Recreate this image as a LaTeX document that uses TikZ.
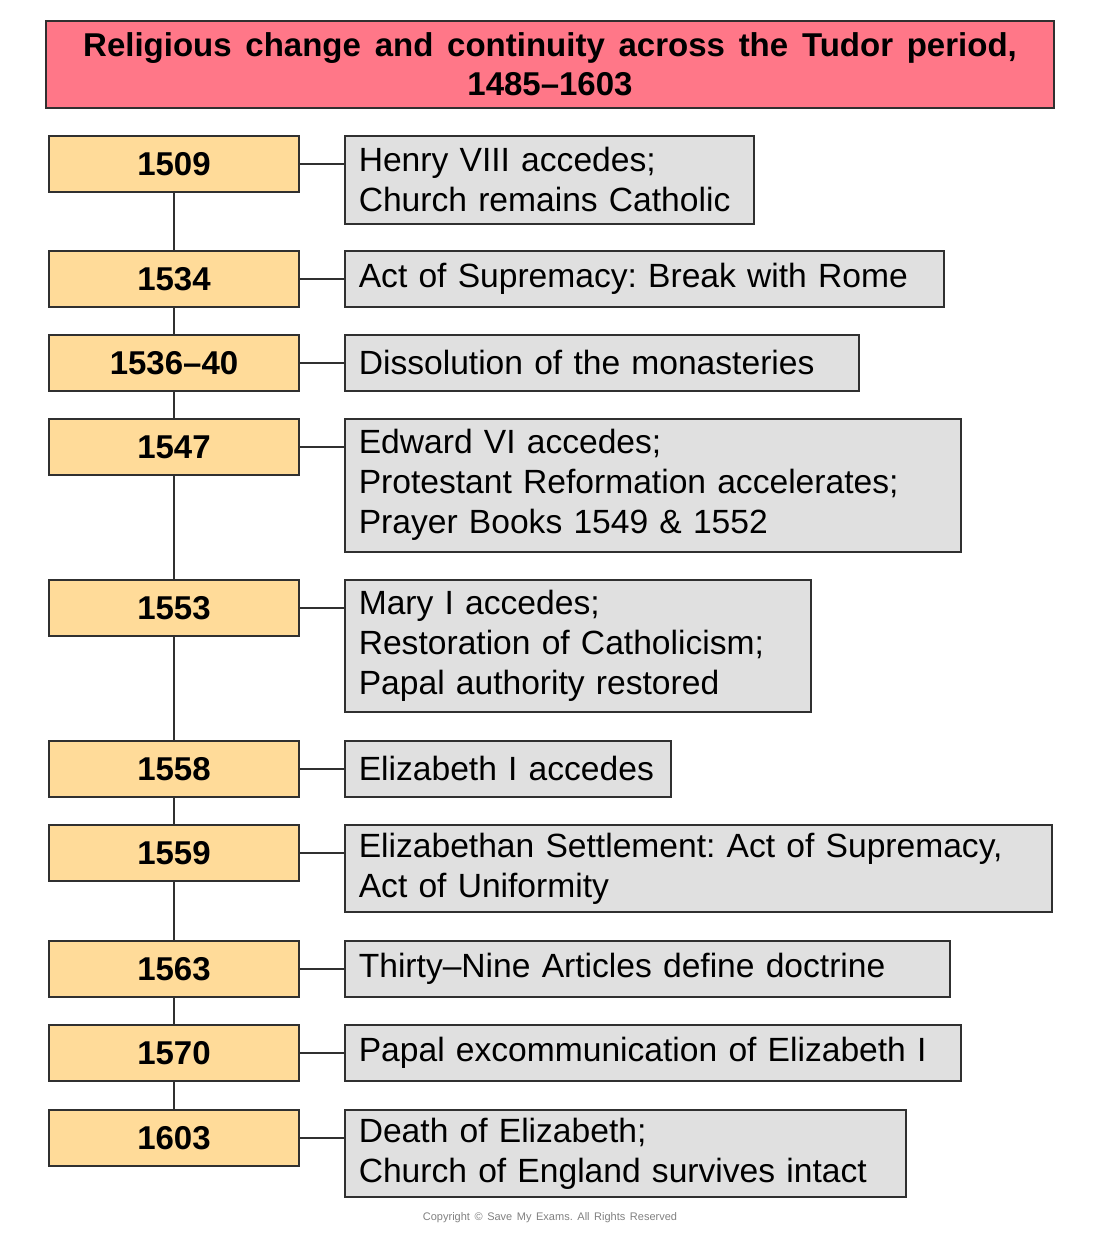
\documentclass[tikz,border=0pt]{standalone}
\usepackage{fontspec}
\setmainfont[WordSpace=1.5]{Liberation Sans}
\usetikzlibrary{positioning,calc}
\definecolor{titlered}{HTML}{FF7788}
\definecolor{yearorange}{HTML}{FFDB99}
\definecolor{eventgrey}{HTML}{E0E0E0}
\definecolor{linegrey}{HTML}{303030}
\frenchspacing
\tikzset{font=\fontsize{16.8}{20}\selectfont}
\tikzset{
	titlebox/.style={draw=linegrey, line width=1pt, fill=titlered, minimum width=504pt, minimum height=43.5pt, align=center, inner sep=0pt, font=\fontsize{16.5}{19.5}\selectfont\bfseries},
	yearbox/.style={draw=linegrey, line width=1pt, fill=yearorange, minimum width=125pt, minimum height=28pt, anchor=north west, inner sep=0pt, font=\fontsize{16.5}{20}\selectfont\bfseries},
	eventbox/.style={draw=linegrey, line width=0.8pt, fill=eventgrey, anchor=north west, align=left, inner xsep=7pt, inner ysep=4pt, text width=#1},
	link/.style={draw=linegrey, line width=1pt}
}

\begin{document}
\begin{tikzpicture}[x=0.5pt, y=-0.5pt]
	\useasboundingbox (0,0) rectangle (1100,1233);

	% title
	\node[titlebox] (title) at (550,64.5) {Religious change and continuity across the Tudor period,\\ 1485–1603};

	% years
	\node[yearbox] (y1) at (48,135) {1509};
	\node[yearbox] (y2) at (48,250) {1534};
	\node[yearbox] (y3) at (48,334) {1536–40};
	\node[yearbox] (y4) at (48,418) {1547};
	\node[yearbox] (y5) at (48,579) {1553};
	\node[yearbox] (y6) at (48,740) {1558};
	\node[yearbox] (y7) at (48,824) {1559};
	\node[yearbox] (y8) at (48,940) {1563};
	\node[yearbox] (y9) at (48,1024) {1570};
	\node[yearbox] (y10) at (48,1109) {1603};

	% events
	\node[eventbox=190.5pt, minimum height=44pt] (e1) at (344,135) {Henry VIII accedes;\\ Church remains Catholic};
	\node[eventbox=285.5pt, minimum height=28pt] (e2) at (344,250) {Act of Supremacy: Break with Rome};
	\node[eventbox=243pt, minimum height=28pt] (e3) at (344,334) {Dissolution of the monasteries};
	\node[eventbox=294pt, minimum height=66.5pt] (e4) at (344,418) {Edward VI accedes;\\ Protestant Reformation accelerates;\\ Prayer Books 1549 \& 1552};
	\node[eventbox=219pt, minimum height=66pt] (e5) at (344,579) {Mary I accedes;\\ Restoration of Catholicism;\\ Papal authority restored};
	\node[eventbox=149pt, minimum height=28pt] (e6) at (344,740) {Elizabeth I accedes};
	\node[eventbox=339.5pt, minimum height=43.5pt] (e7) at (344,824) {Elizabethan Settlement: Act of Supremacy,\\ Act of Uniformity};
	\node[eventbox=288.5pt, minimum height=28pt] (e8) at (344,940) {Thirty–Nine Articles define doctrine};
	\node[eventbox=294pt, minimum height=28pt] (e9) at (344,1024) {Papal excommunication of Elizabeth I};
	\node[eventbox=266.5pt, minimum height=43.5pt] (e10) at (344,1109) {Death of Elizabeth;\\ Church of England survives intact};

	% spine
	\draw[link] (y1.south) -- (y2.north);
	\draw[link] (y2.south) -- (y3.north);
	\draw[link] (y3.south) -- (y4.north);
	\draw[link] (y4.south) -- (y5.north);
	\draw[link] (y5.south) -- (y6.north);
	\draw[link] (y6.south) -- (y7.north);
	\draw[link] (y7.south) -- (y8.north);
	\draw[link] (y8.south) -- (y9.north);
	\draw[link] (y9.south) -- (y10.north);

	% branches
	\draw[link] (y1.east) -- (y1.east -| e1.west);
	\draw[link] (y2.east) -- (y2.east -| e2.west);
	\draw[link] (y3.east) -- (y3.east -| e3.west);
	\draw[link] (y4.east) -- (y4.east -| e4.west);
	\draw[link] (y5.east) -- (y5.east -| e5.west);
	\draw[link] (y6.east) -- (y6.east -| e6.west);
	\draw[link] (y7.east) -- (y7.east -| e7.west);
	\draw[link] (y8.east) -- (y8.east -| e8.west);
	\draw[link] (y9.east) -- (y9.east -| e9.west);
	\draw[link] (y10.east) -- (y10.east -| e10.west);

	\node[font=\fontsize{5.5}{6}\selectfont, text=gray] (copy) at (550,1218) {Copyright © Save My Exams. All Rights Reserved};
\end{tikzpicture}
\end{document}
